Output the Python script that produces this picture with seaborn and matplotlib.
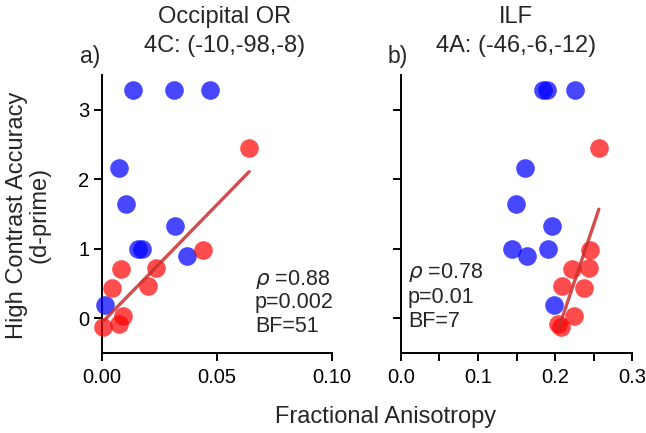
import matplotlib
matplotlib.use("Agg")
import matplotlib.pyplot as plt
import seaborn as sns
import pandas as pd

# Data
blue_y = [3.28, 3.28, 3.28, 2.16, 1.65, 1.33, 0.99, 0.99, 0.90, 0.19]
blue_x_a = [0.0136, 0.0313, 0.0470, 0.0075, 0.0104, 0.0317, 0.0158, 0.0172, 0.0370, 0.0013]
blue_x_b = [0.185, 0.189, 0.226, 0.161, 0.149, 0.1965, 0.144, 0.191, 0.163, 0.199]

red_y = [2.45, 0.98, 0.72, 0.71, 0.47, 0.44, 0.03, -0.08, -0.13]
red_x_a = [0.0640, 0.0440, 0.0235, 0.0081, 0.0201, 0.0042, 0.0093, 0.0075, 0.0006]
red_x_b = [0.257, 0.246, 0.244, 0.222, 0.209, 0.238, 0.225, 0.204, 0.208]

title_line1 = ["Occipital OR", "ILF"]
title_line2 = ["4C: (-10,-98,-8)", "4A: (-46,-6,-12)"]
panel_labels = ["a)", "b)"]
stats = [["$\\rho$ =0.88", "p=0.002", "BF=51"], ["$\\rho$ =0.78", "p=0.01", "BF=7"]]
xticks_a = [0.00, 0.05, 0.10]
xticklabels_a = ["0.00", "0.05", "0.10"]
xticks_b = [0.0, 0.05, 0.1, 0.15, 0.2, 0.25, 0.3]
xticklabels_b = ["0.0", "", "0.1", "", "0.2", "", "0.3"]
yticks = [0, 1, 2, 3]

sns.set_style("ticks")
plt.rcParams['font.family'] = ['Liberation Sans', 'DejaVu Sans']
plt.rcParams['mathtext.fontset'] = 'dejavusans'

W, H = 646, 433
fig = plt.figure(figsize=(W / 100, H / 100), dpi=100)
ax_a = fig.add_axes([102 / W, 1 - 353 / H, 230 / W, 278 / H])
ax_b = fig.add_axes([401 / W, 1 - 353 / H, 231 / W, 278 / H])


def fx(px):
    return px / W


def fy(py):
    return 1 - py / H


blue_c = (0.0, 0.0, 1.0)
red_c = (1.0, 0.0, 0.0)
line_c = (0.80, 0.18, 0.18)

panels = [
    (ax_a, blue_x_a, red_x_a, (0, 0.10), xticks_a, xticklabels_a),
    (ax_b, blue_x_b, red_x_b, (0, 0.30), xticks_b, xticklabels_b),
]

for i, (ax, bx, rx, xlim, xt, xtl) in enumerate(panels):
    dblue = pd.DataFrame({"x": bx, "y": blue_y})
    dred = pd.DataFrame({"x": rx, "y": red_y})
    sns.scatterplot(data=dblue, x="x", y="y", ax=ax, color=blue_c, alpha=0.72,
                    s=180, linewidth=0, clip_on=False, zorder=3)
    sns.scatterplot(data=dred, x="x", y="y", ax=ax, color=red_c, alpha=0.7,
                    s=180, linewidth=0, clip_on=False, zorder=3)
    sns.regplot(data=dred, x="x", y="y", ax=ax, scatter=False, ci=None,
                line_kws=dict(color=line_c, lw=2.4, alpha=0.85, zorder=4))
    ax.set_xlim(*xlim)
    ax.set_ylim(-0.5, 3.5)
    ax.set_xticks(xt)
    ax.set_xticklabels(xtl)
    ax.set_yticks(yticks)
    if i == 0:
        ax.set_yticklabels([str(v) for v in yticks])
    else:
        ax.set_yticklabels([])
    ax.set_ylabel("")
    ax.set_xlabel("")
    for sp in ["top", "right"]:
        ax.spines[sp].set_visible(False)
    for sp in ["left", "bottom"]:
        ax.spines[sp].set_linewidth(1.4)
        ax.spines[sp].set_color("black")
    ax.tick_params(direction="out", length=6, width=1.4, labelsize=14.5, colors="black")
    ax.tick_params(axis="x", pad=5)
    ax.tick_params(axis="y", pad=3)

# titles
title_cx = [224.5, 516]
for i in range(2):
    fig.text(fx(title_cx[i]), fy(23), title_line1[i], ha="center", va="baseline", fontsize=17)
    fig.text(fx(title_cx[i]), fy(52), title_line2[i], ha="center", va="baseline", fontsize=17)

# panel labels
fig.text(fx(100), fy(63), panel_labels[0], ha="right", va="baseline", fontsize=16.5)
fig.text(fx(408), fy(63), panel_labels[1], ha="right", va="baseline", fontsize=16.5)

# stats text
stat_x = [255, 408]
stat_base = [[285, 308, 332], [278, 303, 327]]
for i in range(2):
    for line, yb in zip(stats[i], stat_base[i]):
        fig.text(fx(stat_x[i]), fy(yb), line, ha="left", va="baseline", fontsize=15.5)

# axis labels
fig.text(fx(17), fy(215), "High Contrast Accuracy", rotation=90, ha="center", va="center", fontsize=17)
fig.text(fx(39), fy(215), "(d-prime)", rotation=90, ha="center", va="center", fontsize=17)
fig.text(fx(386), fy(417), "Fractional Anisotropy", ha="center", va="center", fontsize=17)

fig.savefig("out.png", dpi=100)
